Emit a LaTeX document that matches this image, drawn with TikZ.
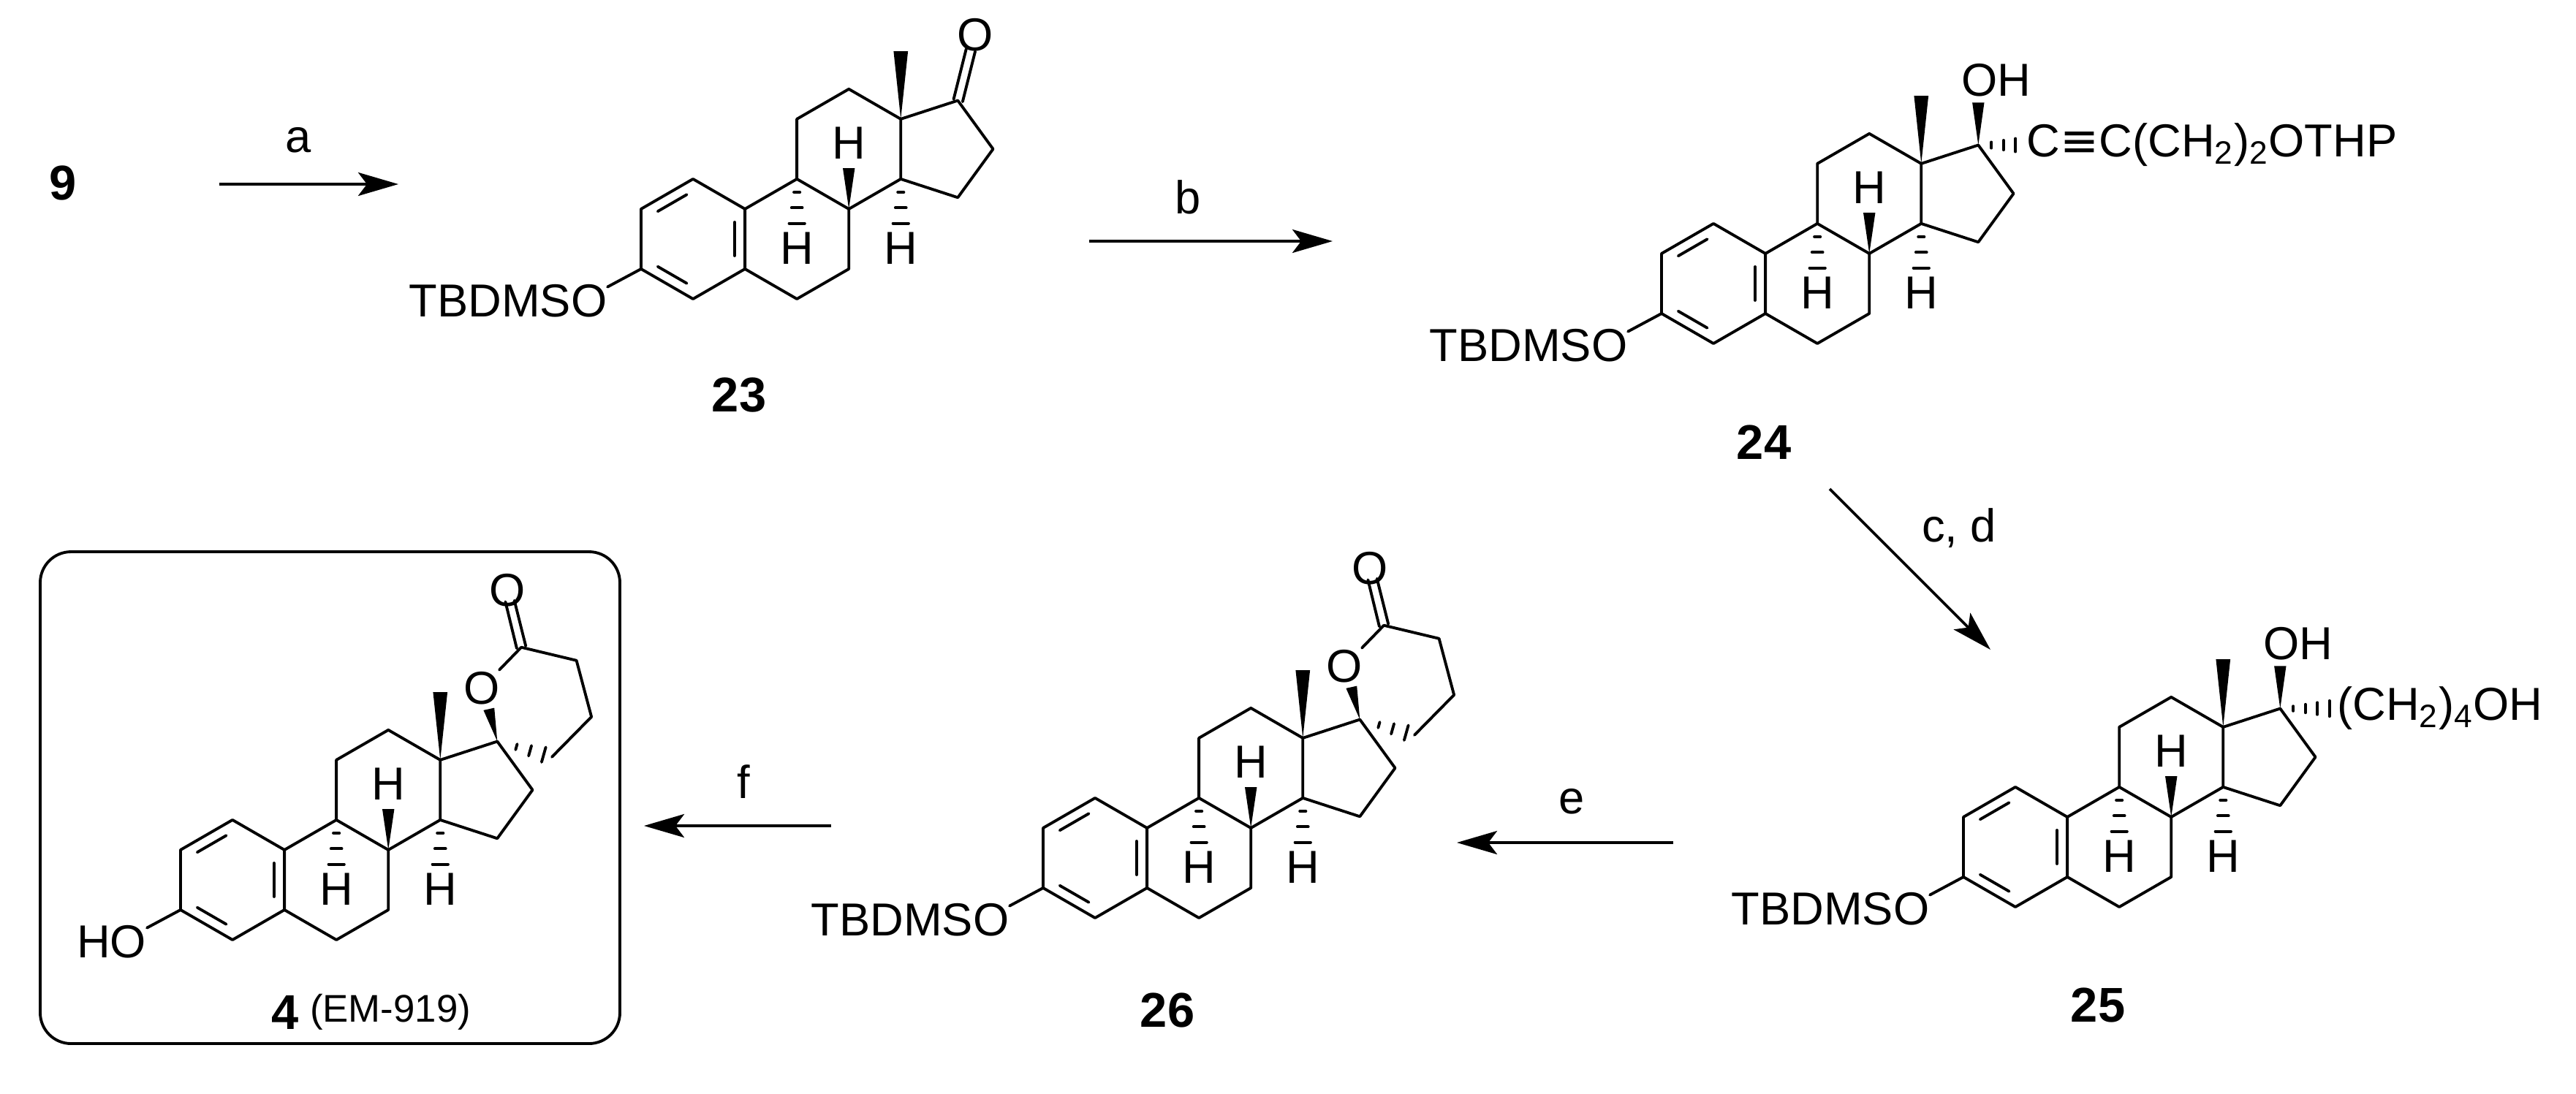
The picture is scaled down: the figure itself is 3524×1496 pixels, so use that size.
\documentclass[tikz,border=0pt]{standalone}
\usepackage{fontspec}
\setmainfont{Liberation Sans}
\newfontfamily\dvfont{DejaVu Sans}
\usetikzlibrary{calc,arrows.meta}
\tikzset{
  bond/.style={line width=1.1pt, line cap=round, line join=round},
  atom/.style={inner sep=0.5pt, font=\fontsize{18}{20}\selectfont},
  cnum/.style={inner sep=1pt, font=\fontsize{19}{21}\selectfont\bfseries},
  rlabel/.style={inner sep=1pt, font=\fontsize{18}{20}\selectfont},
  rarrow/.style={line width=1.1pt, -{Stealth[length=5.5mm,width=3.2mm,inset=1.2mm]}},
  mol/.style 2 args={shift={(#1,#2)}, x=0.82cm, y=0.82cm}
}
\newcommand{\skel}[1]{%
  \coordinate (#1c3) at (0,0); \coordinate (#1c2) at (0,1);
  \coordinate (#1c1) at (0.866,1.5); \coordinate (#1c10) at (1.732,1);
  \coordinate (#1c5) at (1.732,0); \coordinate (#1c4) at (0.866,-0.5);
  \coordinate (#1c9) at (2.598,1.5); \coordinate (#1c8) at (3.464,1);
  \coordinate (#1c7) at (3.464,0); \coordinate (#1c6) at (2.598,-0.5);
  \coordinate (#1c11) at (2.598,2.5); \coordinate (#1c12) at (3.464,3);
  \coordinate (#1c13) at (4.33,2.5); \coordinate (#1c14) at (4.33,1.5);
  \coordinate (#1c15) at (5.281,1.191); \coordinate (#1c16) at (5.869,2);
  \coordinate (#1c17) at (5.281,2.809); \coordinate (#1ca) at (0.866,0.5);
  \draw[bond] (#1c3)--(#1c2)--(#1c1)--(#1c10)--(#1c5)--(#1c4)--cycle;
  \draw[bond] (#1c10)--(#1c9)--(#1c8)--(#1c7)--(#1c6)--(#1c5);
  \draw[bond] (#1c9)--(#1c11)--(#1c12)--(#1c13)--(#1c14)--(#1c8);
  \draw[bond] (#1c14)--(#1c15)--(#1c16)--(#1c17)--(#1c13);
  \draw[bond] ($($(#1c2)!0.15!(#1c1)$)!0.2!(#1ca)$) -- ($($(#1c2)!0.85!(#1c1)$)!0.2!(#1ca)$);
  \draw[bond] ($($(#1c3)!0.15!(#1c4)$)!0.2!(#1ca)$) -- ($($(#1c3)!0.85!(#1c4)$)!0.2!(#1ca)$);
  \draw[bond] ($($(#1c10)!0.15!(#1c5)$)!0.2!(#1ca)$) -- ($($(#1c10)!0.85!(#1c5)$)!0.2!(#1ca)$);
  % methyl
  \fill (#1c13) -- ($(#1c13)+(-0.12,1.13)$) -- ($(#1c13)+(0.12,1.13)$) -- cycle;
  % H at C8
  \fill (#1c8) -- ($(#1c8)+(-0.1,0.68)$) -- ($(#1c8)+(0.1,0.68)$) -- cycle;
  \node[atom] (#1h8) at ($(#1c8)+(0,1.1)$) {H};
  % H at C9, C14
  \foreach \k/\w in {0.22/0.05,0.48/0.09,0.74/0.13}{
    \draw[bond] ($(#1c9)+(-\w,-\k)$) -- ($(#1c9)+(\w,-\k)$);
    \draw[bond] ($(#1c14)+(-\w,-\k)$) -- ($(#1c14)+(\w,-\k)$);}
  \node[atom] (#1h9) at ($(#1c9)+(0,-1.16)$) {H};
  \node[atom] (#1h14) at ($(#1c14)+(0,-1.16)$) {H};
}
\newcommand{\otbs}[2]{%
  \coordinate (#1o) at (-0.56,-0.3);
  \draw[bond] (#1c3) -- (#1o);
  \node[atom,anchor=east] (#1t) at (-0.54,-0.53) {#2};
}
\newcommand{\lactone}[1]{%
  \node[atom] (#1or) at ($(#1c17)+(-0.26,0.89)$) {O};
  \coordinate (#1cc) at ($(#1c17)+(0.40,1.57)$);
  \coordinate (#1la) at ($(#1c17)+(1.32,1.35)$);
  \coordinate (#1lb) at ($(#1c17)+(1.57,0.41)$);
  \coordinate (#1lc) at ($(#1c17)+(0.91,-0.26)$);
  \node[atom] (#1oc) at ($(#1c17)+(0.17,2.52)$) {O};
  \fill (#1c17) -- ($(#1c17)+(-0.23,0.52)$) -- ($(#1c17)+(-0.05,0.56)$) -- cycle;
  \draw[bond] (#1or) -- (#1cc);
  \draw[bond] (#1cc) -- (#1la) -- (#1lb) -- (#1lc);
  \draw[bond] ($(#1cc)+(-0.075,-0.02)$) -- ($(#1cc)+(-0.075-0.19,0.76)$);
  \draw[bond] ($(#1cc)+(0.075,0.02)$) -- ($(#1cc)+(0.075-0.19,0.78)$);
  \foreach \f/\w in {0.35/0.05,0.6/0.09,0.85/0.13}{
    \draw[bond] ($(#1c17)+({\f*0.91+\w*0.27},{-\f*0.26+\w*0.96})$) -- ($(#1c17)+({\f*0.91-\w*0.27},{-\f*0.26-\w*0.96})$);}
}
\begin{document}
\begin{tikzpicture}[x=0.01cm,y=-0.01cm]
\useasboundingbox (0,0) rectangle (3524,1496);

% compound 9 and arrow a
\node[cnum] (n9) at (86,250) {9};
\coordinate (a1) at (300,252); \coordinate (a2) at (545,252);
\draw[rarrow] (a1) -- (a2);
\node[rlabel] (la) at (408,192) {a};

% compound 23
\begin{scope}[mol={877}{368}]
  \skel{A}
  \otbs{A}{TBDMSO}
  \node[atom] (Aok) at ($(Ac17)+(0.29,1.1)$) {O};
  \draw[bond] ($(Ac17)+(-0.07,0.02)$) -- ($(Ac17)+(-0.07+0.21,0.86)$);
  \draw[bond] ($(Ac17)+(0.08,-0.02)$) -- ($(Ac17)+(0.08+0.21,0.82)$);
\end{scope}
\node[cnum] (n23) at (1011,541) {23};

% arrow b
\coordinate (b1) at (1490,330); \coordinate (b2) at (1823,330);
\draw[rarrow] (b1) -- (b2);
\node[rlabel] (lb) at (1625,270) {b};

% compound 24
\begin{scope}[mol={2273}{429}]
  \skel{B}
  \otbs{B}{TBDMSO}
  \fill (Bc17) -- ($(Bc17)+(-0.1,0.71)$) -- ($(Bc17)+(0.1,0.71)$) -- cycle;
  \node[atom] (Boh) at ($(Bc17)+(0.3,1.08)$) {OH};
  \foreach \k/\w in {0.22/0.05,0.42/0.08,0.62/0.11}{
    \draw[bond] ($(Bc17)+(\k,-\w)$) -- ($(Bc17)+(\k,\w)$);}
  \node[atom,anchor=west] (Bs) at ($(Bc17)+(0.78,0)$) {C{\dvfont ≡}C(CH\textsubscript{2})\textsubscript{2}OTHP};
\end{scope}
\node[cnum] (n24) at (2413,605) {24};

% arrow c,d
\coordinate (c1) at (2503,669); \coordinate (c2) at (2723,889);
\draw[rarrow] (c1) -- (c2);
\node[rlabel] (lcd) at (2680,723) {c, d};

% compound 25
\begin{scope}[mol={2686}{1200}]
  \skel{C}
  \otbs{C}{TBDMSO}
  \fill (Cc17) -- ($(Cc17)+(-0.1,0.71)$) -- ($(Cc17)+(0.1,0.71)$) -- cycle;
  \node[atom] (Coh) at ($(Cc17)+(0.3,1.08)$) {OH};
  \foreach \k/\w in {0.22/0.04,0.42/0.07,0.62/0.10,0.82/0.13}{
    \draw[bond] ($(Cc17)+(\k,-\w)$) -- ($(Cc17)+(\k,\w)$);}
  \node[atom,anchor=west] (Cs) at ($(Cc17)+(0.92,0)$) {(CH\textsubscript{2})\textsubscript{4}OH};
\end{scope}
\node[cnum] (n25) at (2870,1375) {25};

% arrow e
\coordinate (e1) at (2289,1153); \coordinate (e2) at (1993,1153);
\draw[rarrow] (e1) -- (e2);
\node[rlabel] (le) at (2150,1097) {e};

% compound 26
\begin{scope}[mol={1427}{1215}]
  \skel{D}
  \otbs{D}{TBDMSO}
  \lactone{D}
\end{scope}
\node[cnum] (n26) at (1597,1382) {26};

% arrow f
\coordinate (f1) at (1137,1130); \coordinate (f2) at (881,1130);
\draw[rarrow] (f1) -- (f2);
\node[rlabel] (lf) at (1017,1070) {f};

% compound 4
\draw[line width=1.1pt, rounded corners=12pt] (55,755) rectangle (848,1428);
\begin{scope}[mol={247}{1245}]
  \skel{E}
  \otbs{E}{HO}
  \lactone{E}
\end{scope}
\node[cnum] (n4) at (390,1385) {4};
\node[inner sep=1pt, font=\fontsize{15}{17}\selectfont, anchor=west] (em) at (420,1385) {(EM-919)};
\end{tikzpicture}
\end{document}
